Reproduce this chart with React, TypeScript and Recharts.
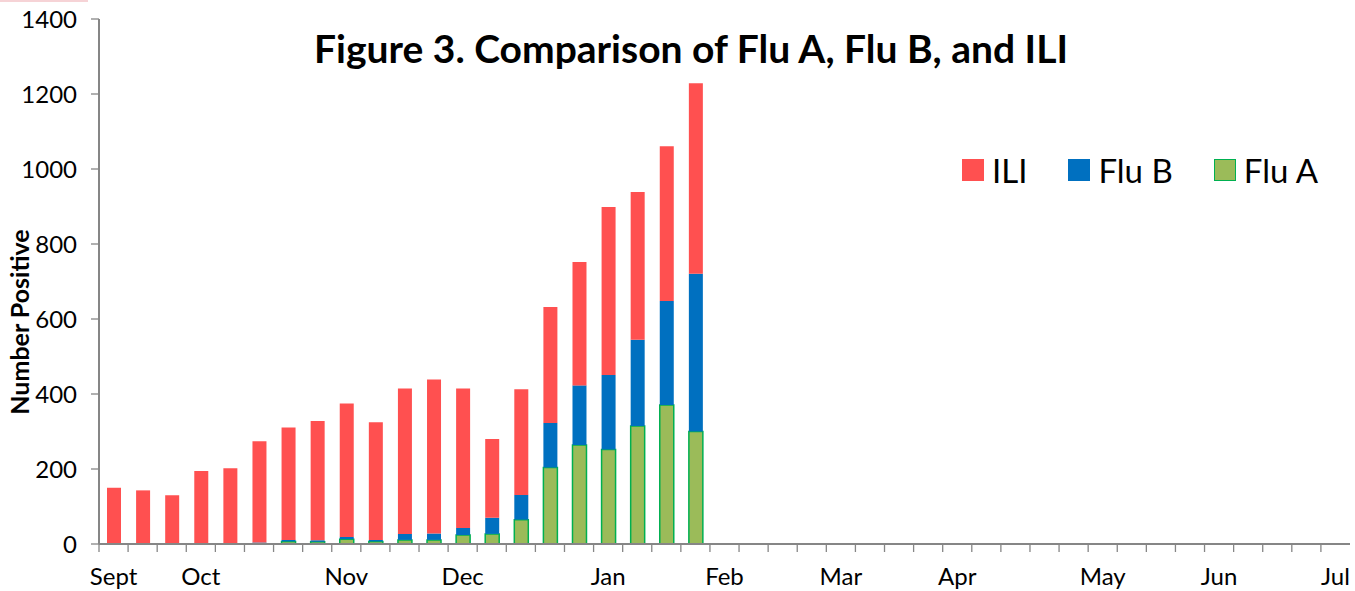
import React from "react";
import { BarChart, Bar, XAxis, YAxis, Legend } from "recharts";

// 43 weekly categories, September through June
const weeks: number[] = [
  1, 2, 3, 4, 5, 6, 7, 8, 9, 10, 11, 12, 13, 14, 15, 16, 17, 18, 19, 20, 21,
  22, 23, 24, 25, 26, 27, 28, 29, 30, 31, 32, 33, 34, 35, 36, 37, 38, 39, 40,
  41, 42, 43,
];

// month tick labels (one per week, blank where no label)
const monthLabels: string[] = [
  "Sept", "", "", "Oct", "", "", "", "", "Nov", "", "", "", "Dec", "", "", "",
  "", "Jan", "", "", "", "Feb", "", "", "", "Mar", "", "", "", "Apr", "", "",
  "", "", "May", "", "", "", "Jun", "", "", "", "Jul",
];

// stacked counts (weeks with data)
const fluA: number[] = [
  0, 0, 0, 0, 0, 1, 7, 6, 13, 7, 11, 11, 24, 27, 65, 204, 264, 252, 315, 371,
  300,
];
const fluB: number[] = [
  0, 0, 0, 0, 0, 3, 4, 4, 6, 4, 16, 17, 19, 43, 66, 119, 159, 199, 230, 277,
  421,
];
const ili: number[] = [
  150, 143, 130, 195, 202, 270, 300, 318, 356, 314, 388, 411, 372, 210, 282,
  309, 329, 448, 394, 413, 508,
];

const yTicks: number[] = [0, 200, 400, 600, 800, 1000, 1200, 1400];

const data = weeks.map((w, i) => ({
  week: w,
  fluA: i < fluA.length ? fluA[i] : null,
  fluB: i < fluB.length ? fluB[i] : null,
  ili: i < ili.length ? ili[i] : null,
}));

const FONT = "Lato, 'Open Sans', sans-serif";
const AXIS = "#868686";
const styles: Record<string, { fill: string; stroke: string }> = {
  ili: { fill: "#FF5050", stroke: "#FF5050" },
  fluB: { fill: "#0070C0", stroke: "#0070C0" },
  fluA: { fill: "#9BBB59", stroke: "#00B050" },
};

const W = 1355;
const H = 591;
const PLOT_LEFT = 99;
const PLOT_RIGHT = 1350;
const HALF_BAND = (PLOT_RIGHT - PLOT_LEFT) / weeks.length / 2;

function XTick(props: any) {
  const { x, y, payload } = props;
  const idx = weeks.indexOf(payload.value);
  const label = monthLabels[idx];
  return (
    <g>
      <line
        x1={x - HALF_BAND}
        x2={x - HALF_BAND}
        y1={y - 8}
        y2={y}
        stroke={AXIS}
        strokeWidth={1.3}
      />
      {label ? (
        <text
          x={x}
          y={y}
          dy={33}
          textAnchor="middle"
          fill="#000"
          fontSize={24}
          fontFamily={FONT}
        >
          {label}
        </text>
      ) : null}
    </g>
  );
}

function LegendContent(props: any) {
  const payload: any[] = (props.payload || []).slice().reverse();
  return (
    <div
      style={{
        display: "flex",
        flexWrap: "nowrap",
        alignItems: "center",
        fontFamily: FONT,
        height: 34,
        width: 420,
        whiteSpace: "nowrap",
      }}
    >
      {payload.map((p: any) => {
        const s = styles[p.dataKey as string];
        return (
          <div
            key={p.dataKey}
            style={{
              display: "flex",
              alignItems: "center",
              marginRight: 41,
              flexShrink: 0,
              whiteSpace: "nowrap",
            }}
          >
            <div
              style={{
                width: 20,
                height: 20,
                background: s.fill,
                border: `1.5px solid ${s.stroke}`,
                marginRight: 8,
                flexShrink: 0,
              }}
            />
            <span
              style={{
                fontSize: 33,
                color: "#000",
                lineHeight: "34px",
                whiteSpace: "nowrap",
              }}
            >
              {p.value}
            </span>
          </div>
        );
      })}
    </div>
  );
}

export default function App() {
  return (
    <div
      style={{
        position: "absolute",
        left: 0,
        top: 0,
        width: W,
        height: H,
        background: "#fff",
        overflow: "hidden",
      }}
    >
      <div
        style={{
          position: "absolute",
          left: 0,
          top: 0,
          width: 88,
          height: 2,
          background: "#F6D3D6",
        }}
      />
      <BarChart
        width={W}
        height={H}
        data={data}
        margin={{ top: 19, right: W - PLOT_RIGHT, bottom: 0, left: 0 }}
        barSize={14}
      >
        <XAxis
          dataKey="week"
          type="category"
          interval={0}
          height={47}
          tickSize={8}
          tickMargin={0}
          tickLine={false}
          axisLine={{ stroke: AXIS, strokeWidth: 2 }}
          tick={<XTick />}
        />
        <YAxis
          width={PLOT_LEFT}
          domain={[0, 1400]}
          ticks={yTicks}
          interval={0}
          tickSize={8}
          tickMargin={14}
          axisLine={{ stroke: AXIS, strokeWidth: 2 }}
          tickLine={{ stroke: AXIS, strokeWidth: 1.3 }}
          tick={{ fill: "#000", fontSize: 24, fontFamily: FONT }}
        />
        <Legend
          layout="horizontal"
          verticalAlign="middle"
          align="center"
          content={<LegendContent />}
          wrapperStyle={{ top: 153, left: 962, width: 420, height: 34 }}
        />
        <Bar
          dataKey="fluA"
          name="Flu A"
          stackId="s"
          fill={styles.fluA.fill}
          stroke={styles.fluA.stroke}
          strokeWidth={1.5}
          isAnimationActive={false}
        />
        <Bar
          dataKey="fluB"
          name="Flu B"
          stackId="s"
          fill={styles.fluB.fill}
          isAnimationActive={false}
        />
        <Bar
          dataKey="ili"
          name="ILI"
          stackId="s"
          fill={styles.ili.fill}
          isAnimationActive={false}
        />
      </BarChart>
      <div
        style={{
          position: "absolute",
          left: 0,
          top: 25,
          width: 1382,
          textAlign: "center",
          fontFamily: FONT,
          fontWeight: 700,
          fontSize: 39,
          lineHeight: "46px",
          color: "#000",
          whiteSpace: "nowrap",
        }}
      >
        Figure 3. Comparison of Flu A, Flu B, and ILI
      </div>
      <div
        style={{
          position: "absolute",
          left: 19,
          top: 322,
          transform: "translate(-50%, -50%) rotate(-90deg)",
          fontFamily: FONT,
          fontWeight: 700,
          fontSize: 25,
          lineHeight: "28px",
          color: "#000",
          whiteSpace: "nowrap",
        }}
      >
        Number Positive
      </div>
    </div>
  );
}
